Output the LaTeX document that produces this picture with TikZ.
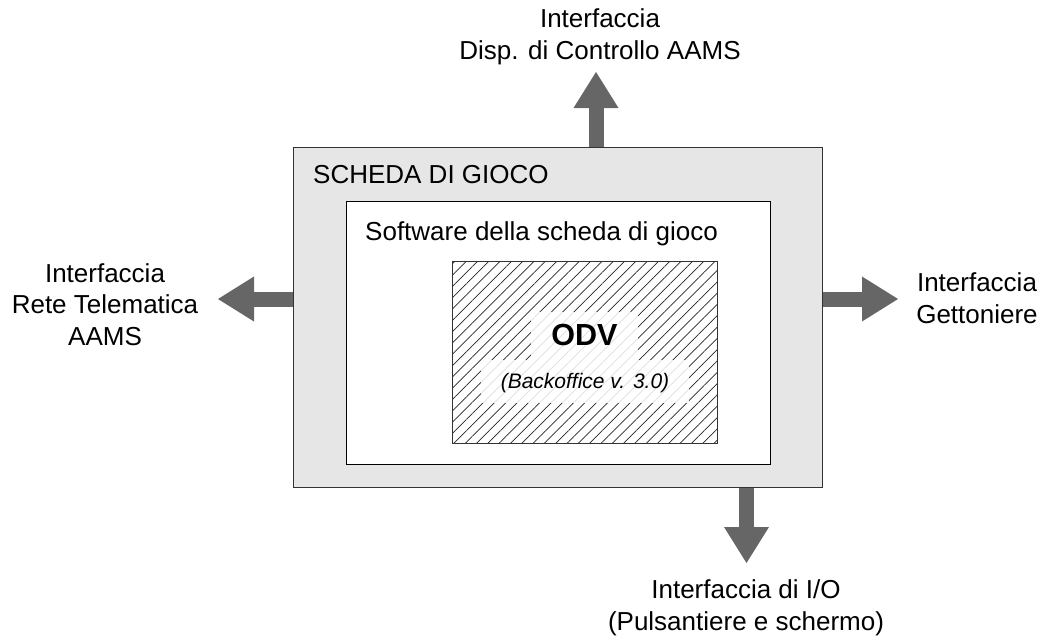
\documentclass[tikz,border=0pt]{standalone}
\usepackage{fontspec}
\setmainfont{Liberation Sans}
\usetikzlibrary{arrows.meta, patterns.meta}
\definecolor{boardgray}{HTML}{E6E6E6}
\definecolor{arrowgray}{HTML}{666666}
\definecolor{edgegray}{HTML}{333333}
\tikzset{
  board/.style    = {rectangle, draw=edgegray, line width=1pt, fill=boardgray,
                     inner sep=0pt},
  swbox/.style    = {rectangle, draw=black, line width=1pt, fill=white,
                     inner sep=0pt},
  hatched/.style  = {rectangle, draw=edgegray, line width=1pt, inner sep=0pt,
                     pattern={Lines[angle=45, distance=8pt, line width=0.7pt]},
                     pattern color=black!85},
  ifacetext/.style = {align=center, inner sep=0pt, anchor=base,
                     font=\fontsize{26}{31.5}\selectfont},
  boxtitle/.style = {inner sep=0pt, anchor=base west,
                     font=\fontsize{26}{31.5}\selectfont},
  veil/.style     = {fill=white, fill opacity=0.85, text opacity=1,
                     inner xsep=20pt, inner ysep=0pt, anchor=base},
  iface/.style    = {draw=arrowgray, line width=15pt,
                     -{Triangle[length=36pt, width=45pt, line width=0pt]}}
}
\begin{document}
\begin{tikzpicture}[x=1pt, y=-1pt]
  \useasboundingbox (0,0) rectangle (1042,637);

  % boxes
  \node[board, minimum width=529pt, minimum height=340pt] (scheda) at (557.5,317) {};
  \node[swbox, minimum width=424pt, minimum height=263pt] (software) at (558,332.5) {};
  \node[hatched, minimum width=265pt, minimum height=182pt] (odv) at (584.5,352) {};

  \node[boxtitle] (schedaTitle) at (313,183) {SCHEDA DI GIOCO};
  \node[boxtitle] (softwareTitle) at (365,240) {Software della scheda di gioco};

  \node[veil, text height=33pt, text depth=15pt,
        font=\bfseries\fontsize{30.5}{36}\selectfont] (odvName) at (584.5,345) {ODV};
  \node[veil, text height=28pt, text depth=15pt,
        font=\itshape\fontsize{21}{25}\selectfont] (odvVer) at (585,388) {(Backoffice v. 3.0)};

  % interfaces
  \coordinate (topTip)    at (596,72);
  \coordinate (leftTip)   at (218,299);
  \coordinate (rightTip)  at (898,299);
  \coordinate (bottomTip) at (746.5,563);

  \draw[iface] (scheda.north -| topTip) -- (topTip);
  \draw[iface] (scheda.west |- leftTip) -- (leftTip);
  \draw[iface] (scheda.east |- rightTip) -- (rightTip);
  \draw[iface] (scheda.south -| bottomTip) -- (bottomTip);

  % base of a multi-line node = last line
  \node[ifacetext] (aamsCtrl) at (600,59)  {Interfaccia\\Disp. di Controllo AAMS};
  \node[ifacetext] (aamsNet)  at (105,345) {Interfaccia\\Rete Telematica\\AAMS};
  \node[ifacetext] (coins)    at (977,323) {Interfaccia\\Gettoniere};
  \node[ifacetext] (io)       at (746,630) {Interfaccia di I/O\\(Pulsantiere e schermo)};
\end{tikzpicture}
\end{document}
